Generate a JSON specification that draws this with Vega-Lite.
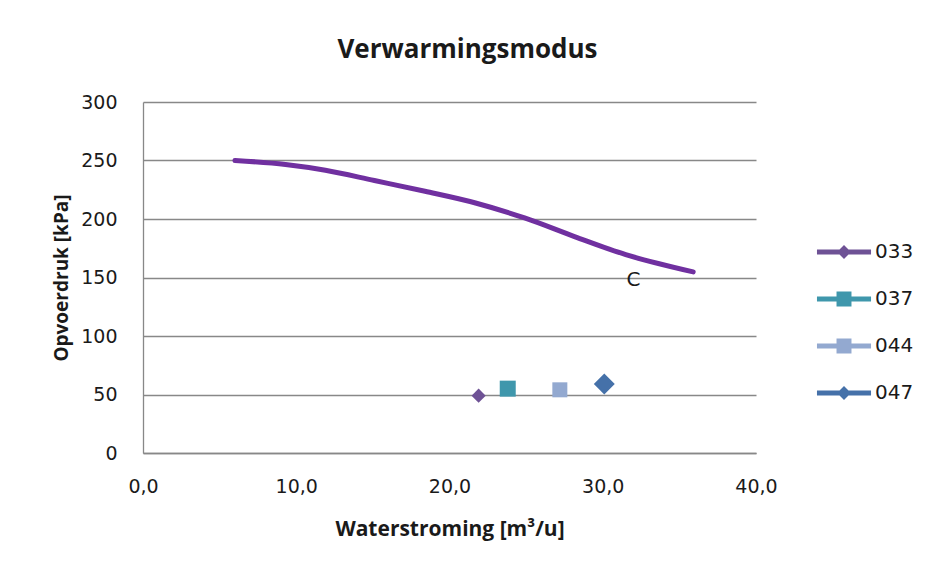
{
  "$schema": "https://vega.github.io/schema/vega-lite/v6.json",
  "width": 613,
  "height": 351,
  "autosize": {"type": "none"},
  "padding": {"left": 143, "top": 102, "right": 174, "bottom": 113},
  "background": "white",
  "title": {
    "text": "Verwarmingsmodus",
    "font": "Open Sans",
    "fontSize": 26,
    "fontWeight": "bold",
    "color": "#1a1a1a",
    "offset": 30,
    "dx": 18
  },
  "datasets": {
    "curve": [
      {"flow": 6.0, "pressure": 250.0},
      {"flow": 9.3, "pressure": 246.6},
      {"flow": 11.9, "pressure": 241.7},
      {"flow": 15.1, "pressure": 232.9},
      {"flow": 18.4, "pressure": 223.7},
      {"flow": 21.7, "pressure": 213.7},
      {"flow": 24.9, "pressure": 200.9},
      {"flow": 28.2, "pressure": 184.8},
      {"flow": 31.5, "pressure": 169.6},
      {"flow": 35.9, "pressure": 154.8}
    ],
    "points": [
      {"series": "033", "flow": 21.9, "pressure": 49},
      {"series": "037", "flow": 23.8, "pressure": 55},
      {"series": "044", "flow": 27.2, "pressure": 54},
      {"series": "047", "flow": 30.1, "pressure": 59}
    ],
    "labels": [
      {"flow": 32.0, "pressure": 148, "text": "C"}
    ]
  },
  "config": {
    "view": {"stroke": null},
    "axis": {
      "labelFont": "DejaVu Sans",
      "labelFontSize": 19,
      "labelColor": "#1a1a1a",
      "labelFlush": false,
      "titleFont": "Open Sans",
      "titleFontWeight": "bold",
      "titleColor": "#1a1a1a",
      "domainColor": "#888888",
      "domainWidth": 1.3,
      "gridColor": "#888888",
      "gridWidth": 1.3,
      "gridOpacity": 1,
      "ticks": false
    },
    "legend": {
      "symbolSize": 1156,
      "symbolStrokeWidth": 0,
      "labelFont": "DejaVu Sans",
      "labelFontSize": 20,
      "labelColor": "#1a1a1a"
    }
  },
  "layer": [
    {
      "data": {"name": "curve"},
      "mark": {"type": "line", "color": "#7030A0", "strokeWidth": 5, "interpolate": "monotone", "strokeCap": "round"},
      "encoding": {
        "x": {
          "field": "flow", "type": "quantitative",
          "scale": {"domain": [0, 40], "nice": false},
          "axis": {
            "values": [0, 10, 20, 30, 40],
            "grid": false,
            "labelExpr": "replace(format(datum.value, '.1f'), '.', ',')",
            "labelPadding": 24,
            "title": "Waterstroming [m³/u]",
            "titleFontSize": 21,
            "titlePadding": 22
          }
        },
        "y": {
          "field": "pressure", "type": "quantitative",
          "scale": {"domain": [0, 300], "nice": false},
          "axis": {
            "values": [0, 50, 100, 150, 200, 250, 300],
            "grid": true,
            "labelPadding": 26,
            "title": "Opvoerdruk [kPa]",
            "titleFontSize": 19,
            "titlePadding": 9
          }
        }
      }
    },
    {
      "data": {"name": "points"},
      "mark": {"type": "point", "filled": true, "opacity": 1},
      "encoding": {
        "x": {"field": "flow", "type": "quantitative"},
        "y": {"field": "pressure", "type": "quantitative"},
        "color": {
          "field": "series", "type": "nominal",
          "scale": {"domain": ["033", "037", "044", "047"], "range": ["#6E5295", "#3F97AC", "#93A9D0", "#4571A9"]},
          "legend": {
            "title": null,
            "orient": "none",
            "legendX": 684,
            "legendY": 133,
            "symbolSize": 1156,
            "labelOffset": 14,
            "rowPadding": 20,
            "padding": 0,
            "encode": {"symbols": {"update": {"size": {"value": 1156}, "strokeWidth": {"value": 0}, "opacity": {"value": 1}}}}
          }
        },
        "shape": {
          "field": "series", "type": "nominal",
          "scale": {
            "domain": ["033", "037", "044", "047"],
            "range": [
              "M-1.59,-0.15H1.59V0.15H-1.59Z M0,-0.41L0.41,0L0,0.41L-0.41,0Z",
              "M-1.59,-0.15H1.59V0.15H-1.59Z M-0.44,-0.44H0.44V0.44H-0.44Z",
              "M-1.59,-0.15H1.59V0.15H-1.59Z M-0.44,-0.44H0.44V0.44H-0.44Z",
              "M-1.59,-0.15H1.59V0.15H-1.59Z M0,-0.41L0.41,0L0,0.41L-0.41,0Z"
            ]
          },
          "legend": {
            "title": null,
            "orient": "none",
            "legendX": 684,
            "legendY": 133,
            "symbolSize": 1156,
            "labelOffset": 14,
            "rowPadding": 20,
            "padding": 0,
            "encode": {"symbols": {"update": {"size": {"value": 1156}, "strokeWidth": {"value": 0}, "opacity": {"value": 1}}}}
          }
        }
      }
    },
    {
      "data": {"name": "points"},
      "transform": [{"filter": "datum.series === '033'"}],
      "mark": {"type": "point", "shape": "diamond", "filled": true, "opacity": 1, "size": 200, "color": "#6E5295"},
      "encoding": {
        "x": {"field": "flow", "type": "quantitative"},
        "y": {"field": "pressure", "type": "quantitative"}
      }
    },
    {
      "data": {"name": "points"},
      "transform": [{"filter": "datum.series === '037'"}],
      "mark": {"type": "point", "shape": "square", "filled": true, "opacity": 1, "size": 256, "color": "#3F97AC"},
      "encoding": {
        "x": {"field": "flow", "type": "quantitative"},
        "y": {"field": "pressure", "type": "quantitative"}
      }
    },
    {
      "data": {"name": "points"},
      "transform": [{"filter": "datum.series === '044'"}],
      "mark": {"type": "point", "shape": "square", "filled": true, "opacity": 1, "size": 225, "color": "#93A9D0"},
      "encoding": {
        "x": {"field": "flow", "type": "quantitative"},
        "y": {"field": "pressure", "type": "quantitative"}
      }
    },
    {
      "data": {"name": "points"},
      "transform": [{"filter": "datum.series === '047'"}],
      "mark": {"type": "point", "shape": "diamond", "filled": true, "opacity": 1, "size": 440, "color": "#4571A9"},
      "encoding": {
        "x": {"field": "flow", "type": "quantitative"},
        "y": {"field": "pressure", "type": "quantitative"}
      }
    },
    {
      "data": {"name": "labels"},
      "mark": {"type": "text", "font": "DejaVu Sans", "fontSize": 20, "color": "#1a1a1a"},
      "encoding": {
        "x": {"field": "flow", "type": "quantitative"},
        "y": {"field": "pressure", "type": "quantitative"},
        "text": {"field": "text", "type": "nominal"}
      }
    }
  ]
}
